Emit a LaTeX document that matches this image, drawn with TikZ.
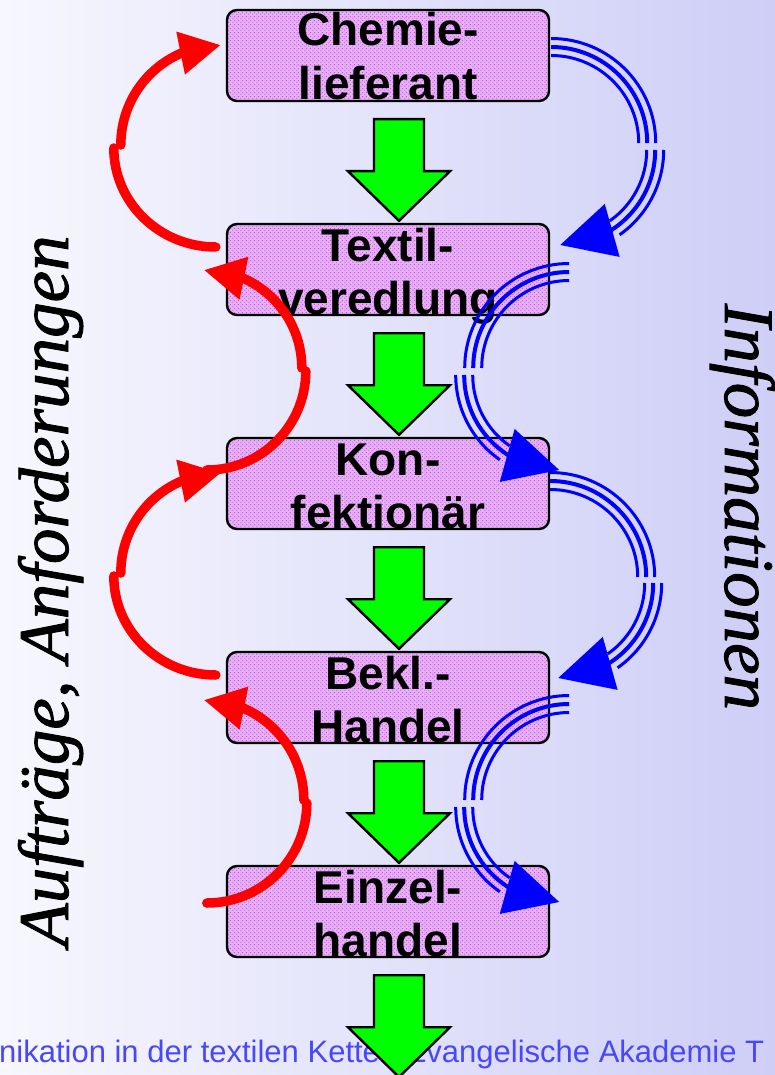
\documentclass[tikz,border=0pt]{standalone}
\usepackage{fontspec}
\newfontfamily\arialfont{Liberation Sans}
\newfontfamily\timesfont{Liberation Serif}[ItalicFeatures={FakeBold=1.2}]
\usetikzlibrary{arrows.meta,bending,calc,patterns}
\pgfdeclarepatternformonly{boxdots}{\pgfqpoint{0pt}{0pt}}{\pgfqpoint{4pt}{4pt}}{\pgfqpoint{4pt}{4pt}}{%
 \pgfpathcircle{\pgfqpoint{1pt}{1pt}}{0.75pt}%
 \pgfpathcircle{\pgfqpoint{3pt}{3pt}}{0.75pt}%
 \pgfusepath{fill}}
\definecolor{bgL}{RGB}{247,247,254}
\definecolor{bgR}{RGB}{206,206,247}
\definecolor{boxbase}{RGB}{226,180,246}
\definecolor{boxdot}{RGB}{232,50,232}
\definecolor{arrgreen}{RGB}{0,255,0}
\definecolor{redline}{RGB}{255,0,0}
\definecolor{blueline}{RGB}{0,0,255}
\definecolor{footblue}{RGB}{72,72,250}
\tikzset{
 chainbox/.style={draw=black, line width=2.4pt, rounded corners=10pt, minimum width=322pt, minimum height=91pt, inner sep=0pt, preaction={fill=boxbase}, pattern=boxdots, pattern color=boxdot},
 boxlabel/.style={font=\arialfont\bfseries\fontsize{46}{55}\selectfont, inner sep=0pt, anchor=base},
 garrow/.style={draw=black, line width=2.4pt, fill=arrgreen, line join=miter},
 redarc/.style={draw=redline, line width=9.5pt, line cap=round},
 redhead/.style={-{Triangle[length=41pt,width=41pt,flex]}},
 blueout/.style={draw=blueline, line width=3pt},
 bluemid/.style={draw=blueline, line width=4pt},
 bluehead/.style={-{Triangle[length=54pt,width=54pt,flex]}},
 sidetext/.style={font=\timesfont\itshape\fontsize{71}{80}\selectfont, inner sep=0pt, anchor=base},
}
% green block arrow from box #1 down to point #2
\newcommand{\greenblock}[2]{%
 \draw[garrow] ($(#1.south)+(-14,-17)$) -- ($(#1.south)+(36,-17)$) -- ($(#1.south)+(36,-69)$) -- ($(#1.south)+(62,-69)$) -- ($(#2)+(11,2)$) -- ($(#1.south)+(-40,-69)$) -- ($(#1.south)+(-14,-69)$) -- cycle;}
% blue triple arc bulging right: #1 upper centre, #2 lower centre
\newcommand{\infoRight}[2]{%
 \draw[blueout] ($(#1)+(0,104.5)$) arc[start angle=90,end angle=0,radius=104.5];
 \draw[bluemid] ($(#1)+(0,96)$) arc[start angle=90,end angle=0,radius=96];
 \draw[blueout] ($(#1)+(0,87.5)$) arc[start angle=90,end angle=0,radius=87.5];
 \draw[blueout] ($(#2)+(103.5,0)$) arc[start angle=0,end angle=-55,radius=103.5];
 \draw[bluemid,bluehead] ($(#2)+(95,0)$) arc[start angle=0,end angle=-90,radius=95];
 \draw[blueout] ($(#2)+(86.5,0)$) arc[start angle=0,end angle=-55,radius=86.5];}
% blue triple arc bulging left
\newcommand{\infoLeft}[2]{%
 \draw[blueout] ($(#1)+(0,104.5)$) arc[start angle=90,end angle=180,radius=104.5];
 \draw[bluemid] ($(#1)+(0,96)$) arc[start angle=90,end angle=180,radius=96];
 \draw[blueout] ($(#1)+(0,87.5)$) arc[start angle=90,end angle=180,radius=87.5];
 \draw[blueout] ($(#2)+(-103.5,0)$) arc[start angle=180,end angle=235,radius=103.5];
 \draw[bluemid,bluehead] ($(#2)+(-95,0)$) arc[start angle=180,end angle=270,radius=95];
 \draw[blueout] ($(#2)+(-86.5,0)$) arc[start angle=180,end angle=235,radius=86.5];}
\begin{document}
\begin{tikzpicture}[x=1pt,y=1pt]
\useasboundingbox (0,0) rectangle (775,-1075);
\clip (0,0) rectangle (775,-1075);
\shade[left color=bgL, right color=bgR] (0,0) rectangle (775,-1075);
% footer
\node[font=\arialfont\fontsize{31}{36}\selectfont, text=footblue, anchor=base west, inner sep=0pt] (footer) at (-1,-1062) {nikation in der textilen Kette / Evangelische Akademie T};
% side texts
\node[sidetext, rotate=90] (lefttxt) at (68,-591) {Aufträge, Anforderungen};
\node[sidetext, rotate=-90] (righttxt) at (725,-507) {Informationen};
% boxes
\node[chainbox] (b1) at (388,-55.5) {};
\node[chainbox] (b2) at (388,-269.5) {};
\node[chainbox] (b3) at (388,-483.5) {};
\node[chainbox] (b4) at (388,-697.5) {};
\node[chainbox] (b5) at (388,-911.5) {};
\node[boxlabel] (l1a) at ($(b1.center)+(0,9.5)$) {Chemie-};
\node[boxlabel] (l1b) at ($(b1.center)+(0,-44.5)$) {lieferant};
\node[boxlabel] (l2a) at ($(b2.center)+(0,8.5)$) {Textil-};
\node[boxlabel] (l2b) at ($(b2.center)+(0,-44.5)$) {veredlung};
\node[boxlabel] (l3a) at ($(b3.center)+(0,8.5)$) {Kon-};
\node[boxlabel] (l3b) at ($(b3.center)+(0,-44.5)$) {fektionär};
\node[boxlabel] (l4a) at ($(b4.center)+(0,8.5)$) {Bekl.-};
\node[boxlabel] (l4b) at ($(b4.center)+(0,-44.5)$) {Handel};
\node[boxlabel] (l5a) at ($(b5.center)+(0,8.5)$) {Einzel-};
\node[boxlabel] (l5b) at ($(b5.center)+(0,-44.5)$) {handel};
% green flow arrows
\coordinate (exit) at (388,-1079);
\greenblock{b1}{b2.north}
\greenblock{b2}{b3.north}
\greenblock{b3}{b4.north}
\greenblock{b4}{b5.north}
\greenblock{b5}{exit}
% red arcs (orders, requirements)
\coordinate (r1tail) at ($(b2.west)+(-10,22.5)$);
\coordinate (r2tail) at ($(b3.west)+(-19,13.5)$);
\coordinate (r3tail) at ($(b4.west)+(-10,22.5)$);
\coordinate (r4tail) at ($(b5.west)+(-19,8.5)$);
\draw[redarc] (r1tail) arc[start angle=-90,end angle=-180,x radius=102,y radius=99];
\draw[redarc,redhead] ($(r1tail)+(-95,102)$) arc[start angle=180,end angle=90,radius=100];
\draw[redarc] (r2tail) arc[start angle=-90,end angle=0,radius=99];
\draw[redarc,redhead] ($(r2tail)+(95,102)$) arc[start angle=0,end angle=90,radius=98];
\draw[redarc] (r3tail) arc[start angle=-90,end angle=-180,x radius=102,y radius=99];
\draw[redarc,redhead] ($(r3tail)+(-95,102)$) arc[start angle=180,end angle=90,radius=100];
\draw[redarc] (r4tail) arc[start angle=-90,end angle=0,radius=100];
\draw[redarc,redhead] ($(r4tail)+(97,103)$) arc[start angle=0,end angle=90,radius=100];
% blue arcs (information)
\coordinate (c1u) at ($(b1.east)+(1,-87.5)$);
\coordinate (c1l) at ($(c1u)+(9,-7)$);
\coordinate (c2u) at ($(b2.east)+(19,-98.5)$);
\coordinate (c2l) at ($(c2u)+(-10,-7)$);
\coordinate (c3u) at ($(b3.east)+(0,-93.5)$);
\coordinate (c3l) at ($(c3u)+(8,-6)$);
\coordinate (c4u) at ($(b4.east)+(19,-102.5)$);
\coordinate (c4l) at ($(c4u)+(-10,-7)$);
\infoRight{c1u}{c1l}
\infoLeft{c2u}{c2l}
\infoRight{c3u}{c3l}
\infoLeft{c4u}{c4l}
\end{tikzpicture}
\end{document}
